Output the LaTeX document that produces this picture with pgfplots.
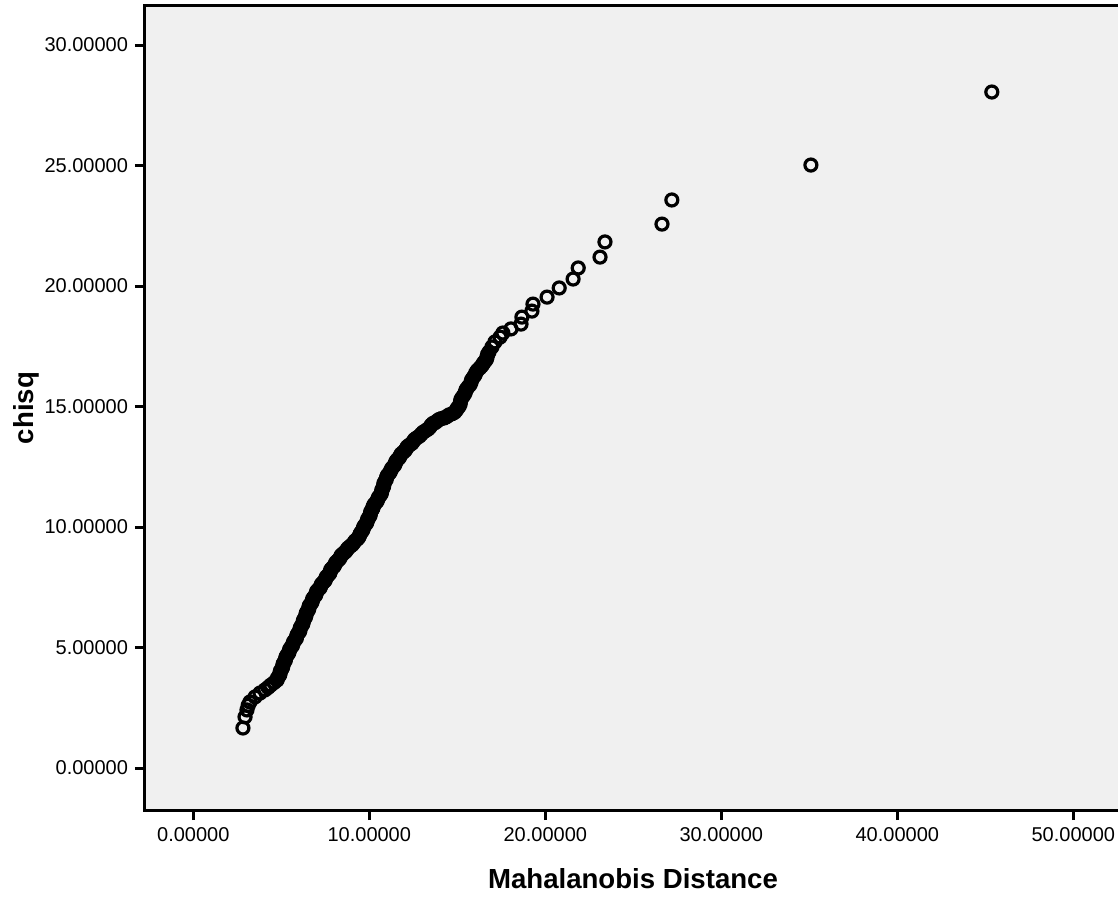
\documentclass[border=0pt]{standalone}
\usepackage{pgfplots}
\pgfplotsset{compat=1.18}
\usepackage{fontspec}
\setmainfont{Liberation Sans}
\definecolor{panel}{HTML}{F0F0F0}

\begin{document}
\begin{tikzpicture}
\begin{axis}[
    name=ax,
    scale only axis,
    width=488pt, height=402pt,
    xmin=-2.744, xmax=52.71,
    ymin=-1.743, ymax=31.62,
    xtick={0,10,...,50}, ytick={0,5,...,30},
    xtick pos=bottom, ytick pos=left,
    tick align=outside,
    major tick length=5pt,
    every tick/.style={black, line width=1.5pt},
    axis line style={line width=1.5pt},
    axis background/.style={fill=panel},
    /pgf/number format/assume math mode=true,
    /pgf/number format/.cd, fixed, fixed zerofill, precision=5, use period,
    /pgfplots/.cd,
    ticklabel style={font=\fontsize{10}{12}\selectfont},
    xlabel={Mahalanobis Distance},
    ylabel={chisq},
    label style={font=\fontsize{13.8}{16}\selectfont\bfseries},
    xlabel style={at={(axis description cs:0.5,0)}, anchor=base, yshift=-39pt},
    ylabel style={at={(axis description cs:0,0.5)}, anchor=center, yshift=59.5pt},
    clip=false,
]
% points read along the band
\addplot[only marks, mark=o, mark size=3pt,
         mark options={line width=1.6pt, draw=black}] coordinates {
(2.82,1.66) (2.94,2.12) (3.05,2.41) (3.12,2.60) (3.22,2.74) (3.51,2.95)
(3.79,3.11) (4.07,3.24) (4.25,3.34) (4.40,3.44) (4.60,3.55) (4.76,3.65)
(4.85,3.80) (4.93,3.94) (5.02,4.10) (5.09,4.25) (5.17,4.40) (5.25,4.55)
(5.35,4.70) (5.45,4.85) (5.55,5.00) (5.66,5.15) (5.78,5.31) (5.87,5.45)
(5.97,5.60) (6.06,5.73) (6.15,5.90) (6.24,6.05) (6.32,6.20) (6.40,6.35)
(6.48,6.50) (6.57,6.65) (6.66,6.80) (6.76,6.95) (6.87,7.10) (6.98,7.25)
(7.10,7.40) (7.24,7.55) (7.38,7.70) (7.52,7.85) (7.66,8.00) (7.78,8.15)
(7.90,8.30) (8.05,8.45) (8.20,8.60) (8.36,8.75) (8.52,8.90) (8.72,9.05)
(8.92,9.20) (9.12,9.35) (9.32,9.50) (9.45,9.65) (9.56,9.80) (9.66,9.95)
(9.78,10.10) (9.88,10.25) (9.98,10.40) (10.06,10.55) (10.14,10.70) (10.22,10.85)
(10.36,11.00) (10.48,11.15) (10.60,11.30) (10.70,11.45) (10.76,11.60) (10.82,11.75)
(10.90,11.90) (10.98,12.05) (11.10,12.20) (11.22,12.35) (11.36,12.50) (11.48,12.65)
(11.60,12.80) (11.75,12.95) (11.92,13.10) (12.10,13.25) (12.28,13.40) (12.50,13.55)
(12.70,13.70) (12.95,13.85) (13.20,14.00) (13.45,14.15) (13.62,14.30) (13.85,14.40)
(14.10,14.50) (14.40,14.58) (14.70,14.70) (14.95,14.85) (15.10,15.00) (15.18,15.20)
(15.30,15.40) (15.46,15.60) (15.60,15.80) (15.78,16.00) (15.90,16.20) (16.05,16.40)
(16.28,16.60) (16.45,16.75) (16.60,16.90) (16.69,17.05) (16.80,17.26) (16.97,17.47)
(17.14,17.68) (17.43,17.88) (17.59,18.05) (18.05,18.22) (18.62,18.42) (18.67,18.71)
(19.24,18.96) (19.30,19.25) (20.10,19.54) (20.79,19.92) (21.58,20.29) (21.87,20.75)
(23.11,21.20) (23.39,21.83) (26.63,22.57) (27.19,23.57) (35.09,25.02) (45.37,28.05)
};
% further points inside the solid part of the band
\addplot[only marks, mark=o, mark size=3pt,
         mark options={line width=1.6pt, draw=black}] coordinates {
(4.78,3.73) (4.91,3.86) (4.95,4.03) (5.07,4.17) (5.11,4.33) (5.23,4.47)
(5.28,4.63) (5.42,4.77) (5.48,4.93) (5.63,5.07) (5.70,5.24) (5.85,5.37)
(5.90,5.53) (6.04,5.66) (6.08,5.82) (6.22,5.97) (6.26,6.13) (6.38,6.27)
(6.42,6.43) (6.55,6.57) (6.59,6.73) (6.74,6.87) (6.79,7.03) (6.95,7.17)
(7.01,7.33) (7.20,7.47) (7.28,7.63) (7.48,7.77) (7.56,7.93) (7.75,8.07)
(7.81,8.23) (8.00,8.37) (8.10,8.53) (8.30,8.67) (8.41,8.83) (8.64,8.97)
(8.80,9.13) (9.04,9.27) (9.20,9.43) (9.40,9.57) (9.49,9.73) (9.63,9.87)
(9.70,10.03) (9.85,10.17) (9.91,10.33) (10.04,10.47) (10.08,10.63) (10.20,10.77)
(10.27,10.93) (10.44,11.07) (10.52,11.23) (10.67,11.37) (10.71,11.53) (10.81,11.67)
(10.84,11.83) (10.96,11.97) (11.02,12.13) (11.18,12.27) (11.27,12.43) (11.44,12.57)
(11.52,12.73) (11.70,12.87) (11.81,13.03) (12.03,13.17) (12.16,13.33) (12.42,13.47)
(12.57,13.63) (12.85,13.77) (13.05,13.93) (13.35,14.07) (13.52,14.23) (13.76,14.34)
(13.96,14.46) (14.27,14.53) (14.53,14.65) (14.85,14.76) (15.00,14.93) (15.16,15.10)
(15.21,15.30) (15.40,15.50) (15.50,15.70) (15.72,15.90) (15.81,16.10) (16.00,16.30)
(16.14,16.50) (16.38,16.68) (16.50,16.82) (16.66,16.97) (16.72,17.16)
};
\end{axis}
\pgfresetboundingbox
\path[use as bounding box] ([xshift=-72.5pt,yshift=3pt]ax.north west)
    rectangle ([xshift=-1.5pt,yshift=-445pt]ax.north east);
\end{tikzpicture}
\end{document}
